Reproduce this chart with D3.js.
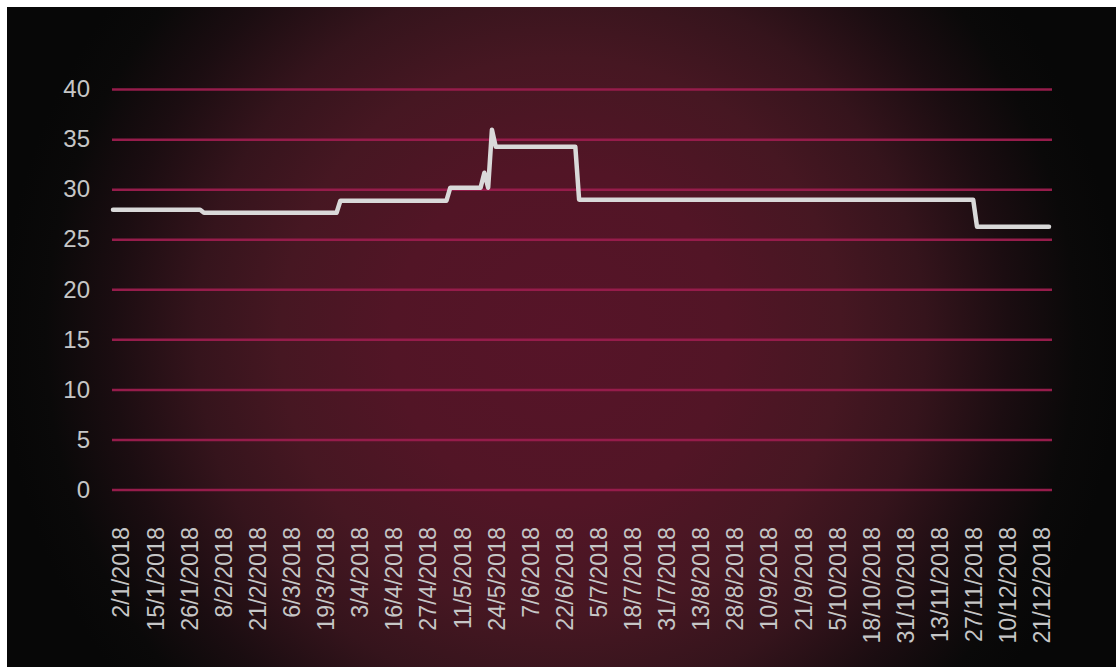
<!DOCTYPE html>
<html>
<head>
<meta charset="utf-8">
<script src="https://cdn.jsdelivr.net/npm/d3@7"></script>
<style>
  html, body { margin: 0; padding: 0; background: #ffffff; }
  svg { display: block; }
</style>
</head>
<body>
<div id="chart"></div>
<script>
// niveles de la serie (escalones) y cuantos puntos dura cada uno
const stepValues  = [28.0, 27.7, 28.9, 30.2, 31.7, 30.2, 36.0, 34.3, 29.0, 26.3];
const stepLengths = [24,   36,   29,   9,    1,    1,    1,    22,   105,  20];

// etiquetas del eje x (una cada 9 puntos, empezando en el punto 2)
const tickLabels = ["2/1/2018","15/1/2018","26/1/2018","8/2/2018","21/2/2018","6/3/2018",
  "19/3/2018","3/4/2018","16/4/2018","27/4/2018","11/5/2018","24/5/2018","7/6/2018",
  "22/6/2018","5/7/2018","18/7/2018","31/7/2018","13/8/2018","28/8/2018","10/9/2018",
  "21/9/2018","5/10/2018","18/10/2018","31/10/2018","13/11/2018","27/11/2018",
  "10/12/2018","21/12/2018"];
const tickFirst = 2, tickEvery = 9;

const yTicks = [0, 5, 10, 15, 20, 25, 30, 35, 40];

// serie completa a partir de los escalones
let serie = [];
stepValues.forEach((v, k) => { for (let j = 0; j < stepLengths[k]; j++) serie.push(v); });

const W = 1116, H = 667;

let svg = d3.select("#chart")
  .append("svg")
  .attr("width", W)
  .attr("height", H);

// fondo con degradado radial
let defs = svg.append("defs");
let grad = defs.append("radialGradient")
  .attr("id", "fondo")
  .attr("gradientUnits", "userSpaceOnUse")
  .attr("cx", 561).attr("cy", 337).attr("r", 560);
[[0, "#561428"], [0.3, "#521526"], [0.5, "#461722"], [0.65, "#35141c"],
 [0.8, "#1b0d11"], [0.92, "#0a0909"], [1, "#070707"]].forEach(s => {
  grad.append("stop").attr("offset", s[0]).attr("stop-color", s[1]);
});

svg.append("rect")
  .attr("x", 7).attr("y", 7)
  .attr("width", W - 7).attr("height", H - 7)
  .attr("fill", "url(#fondo)");

let x = d3.scalePoint()
  .domain(d3.range(serie.length))
  .range([113, 1049]);

let y = d3.scaleLinear()
  .domain([0, 40])
  .range([490, 89.6]);

// lineas de grilla
svg.append("g").selectAll("line")
  .data(yTicks)
  .enter().append("line")
  .attr("x1", 112).attr("x2", 1052)
  .attr("y1", d => y(d)).attr("y2", d => y(d))
  .attr("stroke", "#961c4b")
  .attr("stroke-width", 2.5);

// eje y
let ejeY = svg.append("g")
  .attr("transform", "translate(90,0)")
  .call(d3.axisLeft(y).tickValues(yTicks).tickSize(0).tickPadding(0).tickFormat(d3.format("d")));
ejeY.select(".domain").remove();
ejeY.selectAll("text")
  .attr("fill", "#c6c6c6")
  .attr("dy", "0.3em")
  .style("font-family", "'Liberation Sans', Arial, sans-serif")
  .style("font-size", "24px");

// eje x
let tickIdx = tickLabels.map((t, k) => tickFirst + k * tickEvery);
let ejeX = svg.append("g")
  .attr("transform", "translate(0,527)")
  .call(d3.axisBottom(x).tickValues(tickIdx).tickSize(0).tickPadding(0)
    .tickFormat((d, k) => tickLabels[k]));
ejeX.select(".domain").remove();
ejeX.selectAll("text")
  .attr("fill", "#c6c6c6")
  .attr("transform", "rotate(-90)")
  .attr("text-anchor", "end")
  .attr("x", 0)
  .attr("y", 0)
  .attr("dy", "0.36em")
  .style("font-family", "'Liberation Sans', Arial, sans-serif")
  .style("font-size", "23.3px");

// linea de la serie
let linea = d3.line()
  .x((d, i) => x(i))
  .y(d => y(d));

svg.append("path")
  .datum(serie)
  .attr("d", linea)
  .attr("fill", "none")
  .attr("stroke", "#d9d9d9")
  .attr("stroke-width", 4.5)
  .attr("stroke-linejoin", "round")
  .attr("stroke-linecap", "round");
</script>
</body>
</html>
